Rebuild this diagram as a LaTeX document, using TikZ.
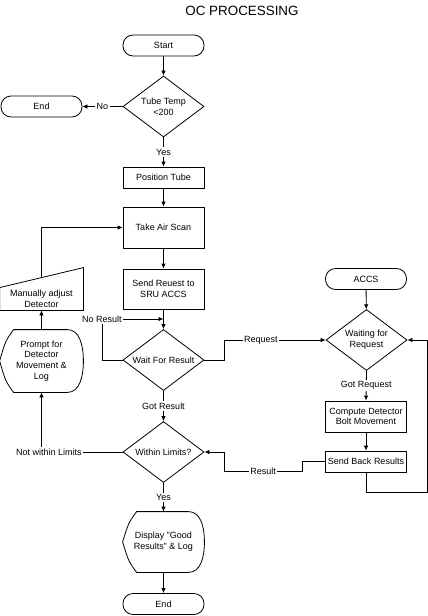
\documentclass[tikz,border=0pt]{standalone}
\usepackage{fontspec}
\setmainfont{Liberation Sans}
\usetikzlibrary{shapes.geometric,arrows.meta,calc}
\newcommand{\dispoutline}[1]{%
\draw ($(#1.north west)+(14,0)$) -- ($(#1.north east)+(-16,0)$)
  .. controls ($(#1.north east)+(-4,0)$) and ($(#1.east)+(0,-16)$) .. (#1.east)
  .. controls ($(#1.east)+(0,16)$) and ($(#1.south east)+(-4,0)$) .. ($(#1.south east)+(-16,0)$)
  -- ($(#1.south west)+(14,0)$)
  .. controls ($(#1.south west)+(6,-11)$) .. (#1.west)
  .. controls ($(#1.north west)+(6,11)$) .. cycle;}
\begin{document}
\begin{tikzpicture}[x=1pt,y=-1pt,line width=0.8pt,
  base/.style={font=\fontsize{9}{10.7}\selectfont, align=center, inner sep=0pt},
  term/.style={base, draw, rounded corners=10pt, minimum width=81pt, minimum height=21pt},
  proc/.style={base, draw, minimum width=81pt},
  dec/.style={base, draw, diamond, shape aspect=1.33, minimum width=81pt, minimum height=61pt},
  disp/.style={base, minimum width=81pt, minimum height=60pt},
  lbl/.style={base, fill=white, inner sep=1.5pt},
  arr/.style={-{Latex[length=5pt,width=4.5pt]}}]
\useasboundingbox (0,0) rectangle (428,616);
\node[base, font=\fontsize{13.4}{15}\selectfont] (title) at (242,11) {OC PROCESSING};
% main column
\node[term] (start) at (163.5,45.5) {Start};
\node[dec] (tt) at (163.5,106.5) {Tube Temp\\\textless200};
\node[term] (end1) at (41.5,106.5) {End};
\node[proc, minimum height=21pt] (pos) at (163.5,177.5) {Position Tube};
\node[proc, minimum height=41pt] (scan) at (163.5,227.5) {Take Air Scan};
\node[proc, minimum height=40pt] (send) at (163.5,289) {Send Reuest to\\SRU ACCS};
\node[dec] (wait) at (163.5,360) {Wait For Result};
\node[dec] (within) at (163.5,452) {Within Limits?};
\node[disp] (good) at (163.5,542) {Display "Good\\Results" \& Log};
\dispoutline{good}
\node[term] (end2) at (163.5,604) {End};
% ACCS column
\node[term] (accs) at (366,279) {ACCS};
\node[dec] (wreq) at (366.5,340) {Waiting for\\Request};
\node[proc, minimum height=31pt] (comp) at (366,416.5) {Compute Detector\\Bolt Movement};
\node[proc, minimum height=21pt] (sendb) at (366,461.5) {Send Back Results};
% left column
\node[disp, minimum width=83pt, minimum height=62pt] (prompt) at (41.5,361) {Prompt for\\Detector\\Movement \&\\Log};
\dispoutline{prompt}
\node[base, minimum width=83pt, minimum height=22pt] (man) at (41.5,299) {Manually adjust\\Detector};
\draw (man.south west) -- (man.north west) -- ($(man.north east)+(0,-20)$) -- (man.south east) -- cycle;
% connectors
\draw[arr] (start) -- (tt);
\draw[arr] (tt.west) -- node[lbl]{No} (end1.east);
\draw[arr] (tt.south) -- node[lbl]{Yes} (pos.north);
\draw[arr] (pos) -- (scan);
\draw[arr] (scan) -- (send);
\draw[arr] (send) -- (wait);
\coordinate (nrc) at (102,319);
\draw[arr] (wait.west) -| (nrc) -- (send.south |- nrc);
\node[lbl] at (nrc) {No Result};
\draw[arr] (wait.east) -- ++(20,0) |- node[lbl, pos=0.68]{Request} (wreq.west);
\draw[arr] (accs) -- (wreq);
\draw[arr] (wreq.south) -- node[lbl]{Got Request} (comp.north);
\draw[arr] (comp) -- (sendb);
\coordinate (lp) at (427,492);
\draw[arr] (sendb.south) |- (lp) |- (wreq.east);
\draw[arr] (sendb.west) -- ++(-23,0) -- ++(0,10) -- node[lbl]{Result} ++(-78,0) |- (within.east);
\draw[arr] (wait.south) -- node[lbl]{Got Result} (within.north);
\draw[arr] (within.south) -- node[lbl]{Yes} (good.north);
\draw[arr] (good) -- (end2);
\draw[arr] (within.west) -| (prompt.south);
\node[lbl] at (49,452) {Not within Limits};
\draw[arr] (prompt.north) -- (man.south);
\draw[arr] ($(man.north)+(0,-10)$) |- (scan.west);
\end{tikzpicture}
\end{document}
